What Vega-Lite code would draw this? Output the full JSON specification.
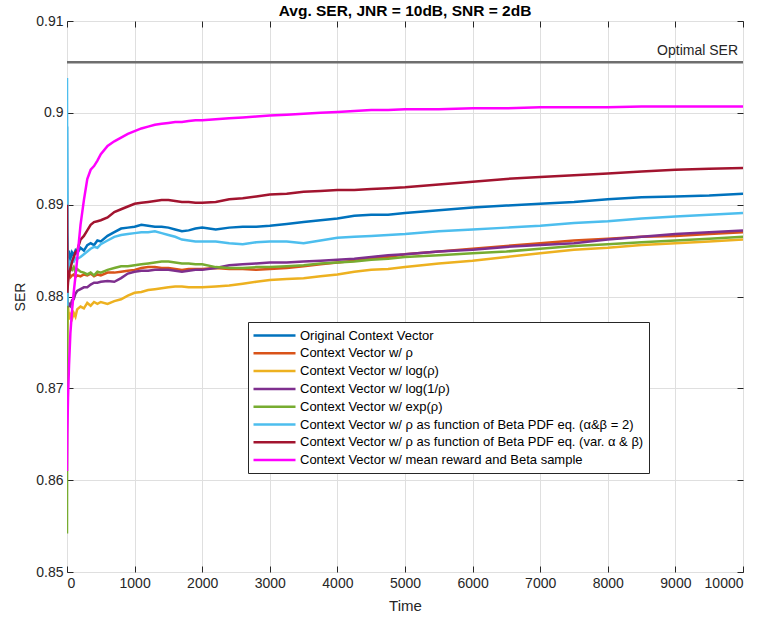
{
  "$schema": "https://vega.github.io/schema/vega-lite/v6.json",
  "width": 676,
  "height": 551,
  "autosize": {"type": "none"},
  "padding": {"left": 67, "top": 21, "right": 18, "bottom": 48},
  "background": "white",
  "title": {
    "text": "Avg. SER, JNR = 10dB, SNR = 2dB",
    "font": "Liberation Sans",
    "fontSize": 15.5,
    "fontWeight": "bold",
    "color": "#000000",
    "offset": -5
  },
  "config": {
    "font": "Liberation Sans",
    "view": {"stroke": "#262626", "strokeWidth": 1},
    "axis": {
      "labelFont": "Liberation Sans",
      "labelFontSize": 14,
      "labelColor": "#262626",
      "titleFont": "Liberation Sans",
      "titleFontSize": 14,
      "titleFontWeight": "normal",
      "titleColor": "#262626",
      "domain": false,
      "tickColor": "#262626",
      "tickSize": -6,
      "gridColor": "#dfdfdf",
      "gridWidth": 1
    }
  },
  "datasets": {
    "series": [
      {"k": "a", "name": "Original Context Vector"},
      {"k": "b", "name": "Context Vector w/ ρ"},
      {"k": "c", "name": "Context Vector w/ log(ρ)"},
      {"k": "d", "name": "Context Vector w/ log(1/ρ)"},
      {"k": "e", "name": "Context Vector w/ exp(ρ)"},
      {"k": "f", "name": "Context Vector w/ ρ as function of Beta PDF eq. (α&β = 2)"},
      {"k": "g", "name": "Context Vector w/ ρ as function of Beta PDF eq. (var. α & β)"},
      {"k": "h", "name": "Context Vector w/ mean reward and Beta sample"}
    ],
    "ser": [
      {"t": 0, "a": 0.8985, "b": 0.8858, "c": 0.8717, "d": 0.8830, "e": 0.8542, "f": 0.9038, "g": 0.8900, "h": 0.8610},
      {"t": 5, "a": 0.8870, "b": 0.8835, "c": 0.8760, "d": 0.8800, "e": 0.8800, "f": 0.8790, "g": 0.8804, "h": 0.8650},
      {"t": 15, "a": 0.8840, "b": 0.8822, "c": 0.8790, "d": 0.8788, "e": 0.8835, "f": 0.8830, "g": 0.8815, "h": 0.8690},
      {"t": 30, "a": 0.8850, "b": 0.8826, "c": 0.8775, "d": 0.8792, "e": 0.8828, "f": 0.8838, "g": 0.8825, "h": 0.8725},
      {"t": 50, "a": 0.8838, "b": 0.8821, "c": 0.8780, "d": 0.8790, "e": 0.8831, "f": 0.8835, "g": 0.8830, "h": 0.8760},
      {"t": 75, "a": 0.8848, "b": 0.8823, "c": 0.8776, "d": 0.8796, "e": 0.8829, "f": 0.8840, "g": 0.8838, "h": 0.8785},
      {"t": 100, "a": 0.8845, "b": 0.8824, "c": 0.8782, "d": 0.8797, "e": 0.8832, "f": 0.8838, "g": 0.8843, "h": 0.8805},
      {"t": 125, "a": 0.8850, "b": 0.8821, "c": 0.8778, "d": 0.8803, "e": 0.8826, "f": 0.8842, "g": 0.8848, "h": 0.8822},
      {"t": 150, "a": 0.8847, "b": 0.8823, "c": 0.8786, "d": 0.8806, "e": 0.8830, "f": 0.8841, "g": 0.8850, "h": 0.8840},
      {"t": 200, "a": 0.8853, "b": 0.8822, "c": 0.8789, "d": 0.8808, "e": 0.8827, "f": 0.8843, "g": 0.8862, "h": 0.8878},
      {"t": 250, "a": 0.8850, "b": 0.8824, "c": 0.8787, "d": 0.8810, "e": 0.8826, "f": 0.8846, "g": 0.8866, "h": 0.8905},
      {"t": 300, "a": 0.8856, "b": 0.8823, "c": 0.8793, "d": 0.8810, "e": 0.8824, "f": 0.8849, "g": 0.8872, "h": 0.8928},
      {"t": 350, "a": 0.8858, "b": 0.8825, "c": 0.8790, "d": 0.8813, "e": 0.8826, "f": 0.8852, "g": 0.8878, "h": 0.8938},
      {"t": 400, "a": 0.8856, "b": 0.8822, "c": 0.8794, "d": 0.8815, "e": 0.8823, "f": 0.8854, "g": 0.8881, "h": 0.8942},
      {"t": 450, "a": 0.8861, "b": 0.8824, "c": 0.8792, "d": 0.8815, "e": 0.8827, "f": 0.8853, "g": 0.8882, "h": 0.8948},
      {"t": 500, "a": 0.8860, "b": 0.8823, "c": 0.8794, "d": 0.8816, "e": 0.8826, "f": 0.8857, "g": 0.8883, "h": 0.8955},
      {"t": 600, "a": 0.8866, "b": 0.8826, "c": 0.8792, "d": 0.8817, "e": 0.8829, "f": 0.8861, "g": 0.8886, "h": 0.8964},
      {"t": 700, "a": 0.8870, "b": 0.8826, "c": 0.8795, "d": 0.8816, "e": 0.8831, "f": 0.8865, "g": 0.8892, "h": 0.8969},
      {"t": 800, "a": 0.8874, "b": 0.8827, "c": 0.8797, "d": 0.8820, "e": 0.8833, "f": 0.8867, "g": 0.8895, "h": 0.8973},
      {"t": 900, "a": 0.8875, "b": 0.8828, "c": 0.8801, "d": 0.8825, "e": 0.8833, "f": 0.8868, "g": 0.8898, "h": 0.8977},
      {"t": 1000, "a": 0.8876, "b": 0.8829, "c": 0.8804, "d": 0.8827, "e": 0.8834, "f": 0.8869, "g": 0.8901, "h": 0.8980},
      {"t": 1100, "a": 0.8878, "b": 0.8831, "c": 0.8805, "d": 0.8828, "e": 0.8835, "f": 0.8870, "g": 0.8902, "h": 0.8983},
      {"t": 1200, "a": 0.8877, "b": 0.8832, "c": 0.8807, "d": 0.8828, "e": 0.8836, "f": 0.8870, "g": 0.8903, "h": 0.8985},
      {"t": 1300, "a": 0.8876, "b": 0.8832, "c": 0.8808, "d": 0.8829, "e": 0.8837, "f": 0.8871, "g": 0.8904, "h": 0.8987},
      {"t": 1400, "a": 0.8876, "b": 0.8831, "c": 0.8809, "d": 0.8829, "e": 0.8838, "f": 0.8869, "g": 0.8905, "h": 0.8988},
      {"t": 1500, "a": 0.8875, "b": 0.8831, "c": 0.8810, "d": 0.8829, "e": 0.8838, "f": 0.8867, "g": 0.8905, "h": 0.8989},
      {"t": 1600, "a": 0.8873, "b": 0.8830, "c": 0.8811, "d": 0.8828, "e": 0.8837, "f": 0.8865, "g": 0.8904, "h": 0.8990},
      {"t": 1700, "a": 0.8871, "b": 0.8829, "c": 0.8811, "d": 0.8827, "e": 0.8836, "f": 0.8862, "g": 0.8903, "h": 0.8990},
      {"t": 1800, "a": 0.8872, "b": 0.8830, "c": 0.8810, "d": 0.8828, "e": 0.8836, "f": 0.8861, "g": 0.8903, "h": 0.8991},
      {"t": 1900, "a": 0.8874, "b": 0.8830, "c": 0.8810, "d": 0.8829, "e": 0.8835, "f": 0.8860, "g": 0.8902, "h": 0.8992},
      {"t": 2000, "a": 0.8875, "b": 0.8830, "c": 0.8810, "d": 0.8829, "e": 0.8835, "f": 0.8860, "g": 0.8902, "h": 0.8992},
      {"t": 2200, "a": 0.8873, "b": 0.8831, "c": 0.8811, "d": 0.8831, "e": 0.8832, "f": 0.8860, "g": 0.8903, "h": 0.8993},
      {"t": 2400, "a": 0.8875, "b": 0.8830, "c": 0.8812, "d": 0.8834, "e": 0.8831, "f": 0.8858, "g": 0.8906, "h": 0.8994},
      {"t": 2600, "a": 0.8876, "b": 0.8830, "c": 0.8814, "d": 0.8835, "e": 0.8831, "f": 0.8857, "g": 0.8907, "h": 0.8995},
      {"t": 2800, "a": 0.8876, "b": 0.8829, "c": 0.8816, "d": 0.8836, "e": 0.8832, "f": 0.8859, "g": 0.8909, "h": 0.8996},
      {"t": 3000, "a": 0.8877, "b": 0.8830, "c": 0.8818, "d": 0.8837, "e": 0.8832, "f": 0.8860, "g": 0.8911, "h": 0.8997},
      {"t": 3250, "a": 0.8879, "b": 0.8831, "c": 0.8819, "d": 0.8837, "e": 0.8833, "f": 0.8860, "g": 0.8912, "h": 0.8998},
      {"t": 3500, "a": 0.8881, "b": 0.8833, "c": 0.8820, "d": 0.8838, "e": 0.8834, "f": 0.8858, "g": 0.8914, "h": 0.8999},
      {"t": 3750, "a": 0.8883, "b": 0.8835, "c": 0.8822, "d": 0.8839, "e": 0.8836, "f": 0.8861, "g": 0.8915, "h": 0.9000},
      {"t": 4000, "a": 0.8885, "b": 0.8837, "c": 0.8824, "d": 0.8840, "e": 0.8837, "f": 0.8864, "g": 0.8916, "h": 0.9001},
      {"t": 4250, "a": 0.8888, "b": 0.8839, "c": 0.8827, "d": 0.8841, "e": 0.8838, "f": 0.8865, "g": 0.8916, "h": 0.9002},
      {"t": 4500, "a": 0.8889, "b": 0.8841, "c": 0.8829, "d": 0.8843, "e": 0.8840, "f": 0.8866, "g": 0.8917, "h": 0.9003},
      {"t": 4750, "a": 0.8889, "b": 0.8843, "c": 0.8830, "d": 0.8845, "e": 0.8841, "f": 0.8867, "g": 0.8918, "h": 0.9003},
      {"t": 5000, "a": 0.8891, "b": 0.8846, "c": 0.8832, "d": 0.8846, "e": 0.8843, "f": 0.8868, "g": 0.8919, "h": 0.9004},
      {"t": 5500, "a": 0.8894, "b": 0.8849, "c": 0.8836, "d": 0.8849, "e": 0.8845, "f": 0.8871, "g": 0.8922, "h": 0.9004},
      {"t": 6000, "a": 0.8897, "b": 0.8852, "c": 0.8839, "d": 0.8851, "e": 0.8847, "f": 0.8873, "g": 0.8925, "h": 0.9005},
      {"t": 6500, "a": 0.8899, "b": 0.8855, "c": 0.8843, "d": 0.8854, "e": 0.8849, "f": 0.8875, "g": 0.8928, "h": 0.9005},
      {"t": 7000, "a": 0.8901, "b": 0.8858, "c": 0.8847, "d": 0.8856, "e": 0.8852, "f": 0.8877, "g": 0.8930, "h": 0.9006},
      {"t": 7500, "a": 0.8903, "b": 0.8861, "c": 0.8851, "d": 0.8858, "e": 0.8855, "f": 0.8880, "g": 0.8932, "h": 0.9006},
      {"t": 8000, "a": 0.8906, "b": 0.8863, "c": 0.8853, "d": 0.8862, "e": 0.8857, "f": 0.8882, "g": 0.8934, "h": 0.9006},
      {"t": 8500, "a": 0.8908, "b": 0.8865, "c": 0.8856, "d": 0.8865, "e": 0.8859, "f": 0.8885, "g": 0.8936, "h": 0.9007},
      {"t": 9000, "a": 0.8909, "b": 0.8866, "c": 0.8858, "d": 0.8868, "e": 0.8861, "f": 0.8887, "g": 0.8938, "h": 0.9007},
      {"t": 9500, "a": 0.8910, "b": 0.8868, "c": 0.8860, "d": 0.8870, "e": 0.8863, "f": 0.8889, "g": 0.8939, "h": 0.9007},
      {"t": 10000, "a": 0.8912, "b": 0.8870, "c": 0.8862, "d": 0.8872, "e": 0.8865, "f": 0.8891, "g": 0.8940, "h": 0.9007}
    ],
    "optimal": [
      {"t": 10000, "opt": 0.9055, "label": "Optimal SER"}
    ]
  },
  "layer": [
    {
      "data": {"name": "ser"},
      "transform": [
        {"fold": ["a", "b", "c", "d", "e", "f", "g", "h"], "as": ["k", "v"]},
        {"lookup": "k", "from": {"data": {"name": "series"}, "key": "k", "fields": ["name"]}}
      ],
      "mark": {"type": "line", "strokeWidth": 2.5, "clip": true},
      "encoding": {
        "x": {
          "field": "t",
          "type": "quantitative",
          "scale": {"domain": [0, 10000], "nice": false},
          "axis": {
            "title": "Time",
            "titleFontSize": 15,
            "values": [0, 1000, 2000, 3000, 4000, 5000, 6000, 7000, 8000, 9000, 10000],
            "format": "d",
            "grid": true,
            "labelPadding": 10,
            "titlePadding": 8
          }
        },
        "y": {
          "field": "v",
          "type": "quantitative",
          "scale": {"domain": [0.85, 0.91], "nice": false, "zero": false},
          "axis": {
            "title": "SER",
            "values": [0.85, 0.86, 0.87, 0.88, 0.89, 0.9, 0.91],
            "format": ".2~f",
            "grid": true,
            "labelPadding": 10,
            "titlePadding": 8
          }
        },
        "color": {
          "field": "name",
          "type": "nominal",
          "scale": {
            "domain": [
              "Original Context Vector",
              "Context Vector w/ ρ",
              "Context Vector w/ log(ρ)",
              "Context Vector w/ log(1/ρ)",
              "Context Vector w/ exp(ρ)",
              "Context Vector w/ ρ as function of Beta PDF eq. (α&β = 2)",
              "Context Vector w/ ρ as function of Beta PDF eq. (var. α & β)",
              "Context Vector w/ mean reward and Beta sample"
            ],
            "range": ["#0072BD", "#D95319", "#EDB120", "#7E2F8E", "#77AC30", "#4DBEEE", "#A2142F", "#FF00FF"]
          },
          "legend": {
            "title": null,
            "orient": "none",
            "legendX": 181,
            "legendY": 301,
            "symbolType": "M-3,0H3",
            "symbolSize": 196,
            "symbolStrokeWidth": 2.5,
            "symbolOffset": 13,
            "labelOffset": 17,
            "labelFont": "Liberation Sans",
            "labelFontSize": 13,
            "labelColor": "#000000",
            "labelLimit": 420,
            "fillColor": "#ffffff",
            "strokeColor": "#262626",
            "padding": 5,
            "rowPadding": 1.8
          }
        }
      }
    },
    {
      "data": {"name": "optimal"},
      "mark": {"type": "rule", "color": "#6e6e6e", "strokeWidth": 2.5},
      "encoding": {
        "y": {"field": "opt", "type": "quantitative", "scale": {"domain": [0.85, 0.91], "nice": false, "zero": false}, "axis": null}
      }
    },
    {
      "data": {"name": "optimal"},
      "mark": {"type": "text", "align": "right", "baseline": "bottom", "dx": -5, "dy": -4, "font": "Liberation Sans", "fontSize": 14, "color": "#262626"},
      "encoding": {
        "x": {
          "field": "t",
          "type": "quantitative",
          "scale": {"domain": [0, 10000], "nice": false},
          "axis": {"orient": "top", "title": null, "labels": false, "grid": false, "values": [0, 1000, 2000, 3000, 4000, 5000, 6000, 7000, 8000, 9000, 10000]}
        },
        "y": {
          "field": "opt",
          "type": "quantitative",
          "scale": {"domain": [0.85, 0.91], "nice": false, "zero": false},
          "axis": {"orient": "right", "title": null, "labels": false, "grid": false, "values": [0.85, 0.86, 0.87, 0.88, 0.89, 0.9, 0.91]}
        },
        "text": {"field": "label"}
      }
    }
  ],
  "resolve": {"axis": {"x": "independent", "y": "independent"}}
}
